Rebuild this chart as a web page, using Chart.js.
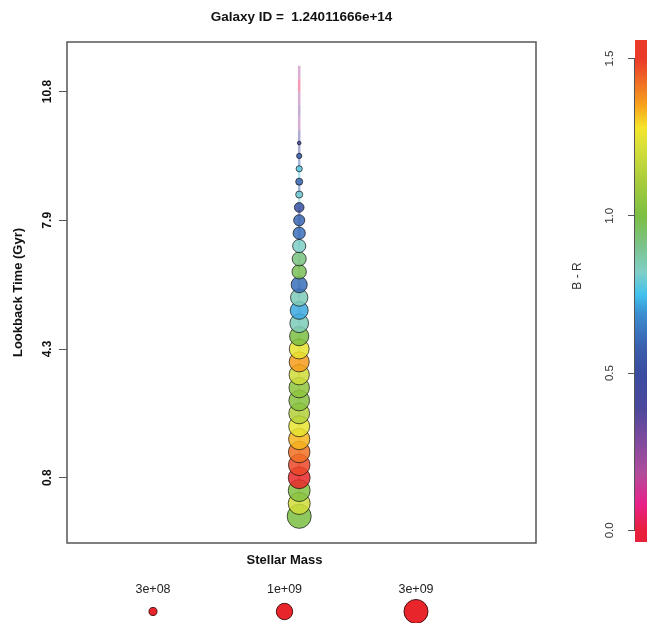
<!DOCTYPE html>
<html>
<head>
<meta charset="utf-8">
<title>Galaxy ID = 1.24011666e+14</title>
<script src="https://cdn.jsdelivr.net/npm/chart.js@4.4.1/dist/chart.umd.min.js"></script>
<style>
  html, body { margin: 0; padding: 0; background: #fff; }
  #wrap { position: relative; width: 657px; height: 623px; }
  #main { position: absolute; left: 0; top: 0; }
  #cbar { position: absolute; left: 560px; top: 0; }
</style>
</head>
<body>
<div id="wrap">
  <canvas id="main" width="603" height="623"></canvas>
  <canvas id="cbar" width="97" height="623"></canvas>
</div>
<script>
  // snapshots, present day at 0, going back in time upwards
  const snapIndex = [0, 1, 2, 3, 4, 5, 6, 7, 8, 9, 10, 11, 12, 13, 14, 15, 16, 17,
    18, 19, 20, 21, 22, 23, 24, 25, 26, 27, 28, 29, 30, 31, 32, 33, 34, 35];

  const bMinusR = [1.00, 1.20, 1.02, 1.54, 1.48, 1.42, 1.33, 1.25, 1.14, 1.03, 1.05, 1.20,
    1.36, 1.25, 1.00, 0.84, 0.72, 0.84, 0.62, 0.97, 0.92, 0.82, 0.62, 0.60,
    0.52, 0.80, 0.60, 0.78, 0.58, 0.45, 0.40, 0.20, 0.30, 0.20, 0.03, 0.18];

  const stellarMass = [3.0e9, 2.24e9, 2.2e9, 2.2e9, 2.1e9, 2.1e9, 2.0e9, 1.95e9, 1.9e9,
    1.85e9, 1.8e9, 1.75e9, 1.7e9, 1.65e9, 1.5e9, 1.4e9, 1.25e9, 1.15e9,
    9.6e8, 7.5e8, 7.1e8, 6.3e8, 5.5e8, 4.7e8, 3.8e8, 2.6e8, 2.6e8, 2.3e8,
    2.0e8, 1.6e8, 9e7, 7e7, 5e7, 4e7, 3e7, 2e7];

  const tickSnaps = [3, 13, 23, 33];
  const tickLabels = ["0.8", "4.3", "7.9", "10.8"];

  const legendMasses = [3e8, 1e9, 3e9];
  const legendLabels = ["3e+08", "1e+09", "3e+09"];

  const colorTicks = [0, 0.5, 1.0, 1.5];
  const colorMin = -0.037;
  const colorMax = 1.559;

  // B - R palette
  const colorStops = [
    [-0.04, "#e8202a"], [0.0, "#e8203c"], [0.085, "#e8218a"], [0.18, "#b24c9c"],
    [0.29, "#7d4a9d"], [0.39, "#4a489c"], [0.5, "#3a4ca0"], [0.585, "#3a60ae"],
    [0.69, "#3b8fd1"], [0.75, "#40c2ee"], [0.82, "#80cfc7"], [0.9, "#7bc38f"],
    [1.0, "#7bbf43"], [1.11, "#a8cc3b"], [1.22, "#d8e03a"], [1.28, "#f5e52a"],
    [1.35, "#f7a31c"], [1.43, "#ef6a25"], [1.5, "#ea3a2a"], [1.56, "#e8202b"],
  ];

  const FONT = '"Liberation Sans", Arial, Helvetica, sans-serif';
  Chart.defaults.font.family = FONT;

  function hexToRgb(hex) {
    const n = parseInt(hex.slice(1), 16);
    return [(n >> 16) & 255, (n >> 8) & 255, n & 255];
  }

  function colorFor(v, alpha) {
    let lo = colorStops[0];
    let hi = colorStops[colorStops.length - 1];
    for (let i = 0; i < colorStops.length - 1; i++) {
      if (v >= colorStops[i][0] && v <= colorStops[i + 1][0]) {
        lo = colorStops[i];
        hi = colorStops[i + 1];
        break;
      }
    }
    const t = hi[0] === lo[0] ? 0 : Math.min(1, Math.max(0, (v - lo[0]) / (hi[0] - lo[0])));
    const a = hexToRgb(lo[1]);
    const b = hexToRgb(hi[1]);
    const c = a.map((x, k) => Math.round(x + (b[k] - x) * t));
    return `rgba(${c[0]}, ${c[1]}, ${c[2]}, ${alpha})`;
  }

  // circle radius grows with log stellar mass
  function radiusFor(mass) {
    const r = 8 * Math.log10(mass) - 63.8;
    return r > 0.8 ? r : 0;
  }

  const mainDecor = {
    id: "mainDecor",
    afterDraw(chart) {
      const { ctx, chartArea: area, scales } = chart;
      ctx.save();

      // plot frame
      ctx.strokeStyle = "#555";
      ctx.lineWidth = 1.5;
      ctx.strokeRect(area.left, area.top, area.right - area.left, area.bottom - area.top);

      // title
      ctx.fillStyle = "#111";
      ctx.font = "bold 13.5px " + FONT;
      ctx.textAlign = "center";
      ctx.textBaseline = "middle";
      ctx.fillText("Galaxy ID =  1.24011666e+14", (area.left + area.right) / 2, 17);

      // y tick labels, rotated like the axis title
      ctx.font = "bold 12px " + FONT;
      tickSnaps.forEach((s, i) => {
        const y = scales.y.getPixelForValue(s);
        ctx.save();
        ctx.translate(48, y);
        ctx.rotate(-Math.PI / 2);
        ctx.fillText(tickLabels[i], 0, 0);
        ctx.restore();
      });

      // x label
      const keyX = 284.5;
      ctx.font = "bold 13px " + FONT;
      ctx.fillText("Stellar Mass", keyX, 560);

      // size key
      ctx.font = "12.5px " + FONT;
      legendMasses.forEach((m, i) => {
        const x = keyX + (i - 1) * 131.5;
        ctx.fillStyle = "#222";
        ctx.fillText(legendLabels[i], x, 590);
        ctx.beginPath();
        ctx.arc(x, 611.5, radiusFor(m), 0, Math.PI * 2);
        ctx.fillStyle = "#e8252b";
        ctx.fill();
        ctx.strokeStyle = "rgba(60, 10, 10, 0.9)";
        ctx.lineWidth = 1;
        ctx.stroke();
      });
      ctx.restore();
    },
  };

  new Chart(document.getElementById("main"), {
    type: "bubble",
    data: {
      datasets: [
        {
          type: "bubble",
          order: 1,
          data: snapIndex.map((s, i) => ({ x: 0, y: s, r: radiusFor(stellarMass[i]) })),
          backgroundColor: bMinusR.map((v) => colorFor(v, 0.86)),
          borderColor: "rgba(15, 15, 15, 0.7)",
          borderWidth: 1,
        },
        {
          type: "line",
          order: 2,
          data: snapIndex.map((s) => ({ x: 0, y: s })),
          borderWidth: 2.5,
          pointRadius: 0,
          segment: {
            borderColor: (ctx) => colorFor(bMinusR[ctx.p1DataIndex], 0.45),
          },
        },
      ],
    },
    options: {
      responsive: false,
      animation: false,
      events: [],
      layout: { padding: { top: 42, bottom: 80, right: 67, left: 0 } },
      plugins: { legend: { display: false }, tooltip: { enabled: false } },
      scales: {
        x: { type: "linear", min: -1.01, max: 1.03, display: false },
        y: {
          type: "linear",
          min: -2.07,
          max: 36.85,
          afterFit: (scale) => { scale.width = 67; },
          afterBuildTicks: (scale) => { scale.ticks = tickSnaps.map((v) => ({ value: v })); },
          ticks: { display: false },
          border: { display: false },
          grid: { drawOnChartArea: false, drawTicks: true, tickLength: 8, color: "#555", lineWidth: 1 },
          title: {
            display: true,
            text: "Lookback Time (Gyr)",
            color: "#111",
            font: { size: 13, weight: "bold" },
            padding: { top: 11, bottom: 0 },
          },
        },
      },
    },
    plugins: [mainDecor],
  });

  const colorBar = {
    id: "colorBar",
    beforeDatasetsDraw(chart) {
      const { ctx, chartArea: area, scales } = chart;
      const y = scales.y;
      const grad = ctx.createLinearGradient(0, y.getPixelForValue(colorMin), 0, y.getPixelForValue(colorMax));
      colorStops.forEach(([v, c]) => {
        const t = (v - colorMin) / (colorMax - colorMin);
        if (t >= 0 && t <= 1) grad.addColorStop(t, c);
      });
      ctx.save();
      ctx.fillStyle = grad;
      ctx.fillRect(area.left, area.top, area.right - area.left, area.bottom - area.top);

      // axis line spanning the tick range
      ctx.strokeStyle = "#555";
      ctx.lineWidth = 1;
      ctx.beginPath();
      ctx.moveTo(area.left - 0.5, y.getPixelForValue(colorTicks[0]));
      ctx.lineTo(area.left - 0.5, y.getPixelForValue(colorTicks[colorTicks.length - 1]));
      ctx.stroke();

      ctx.fillStyle = "#333";
      ctx.font = "11.5px " + FONT;
      ctx.textAlign = "center";
      ctx.textBaseline = "middle";
      colorTicks.forEach((v) => {
        ctx.save();
        ctx.translate(50, y.getPixelForValue(v));
        ctx.rotate(-Math.PI / 2);
        ctx.fillText(v.toFixed(1), 0, 0);
        ctx.restore();
      });

      ctx.font = "12px " + FONT;
      ctx.translate(18, 276);
      ctx.rotate(-Math.PI / 2);
      ctx.fillText("B - R", 0, 0);
      ctx.restore();
    },
  };

  new Chart(document.getElementById("cbar"), {
    type: "scatter",
    data: { datasets: [{ data: [] }] },
    options: {
      responsive: false,
      animation: false,
      events: [],
      layout: { padding: { top: 40, bottom: 81, right: 10, left: 0 } },
      plugins: { legend: { display: false }, tooltip: { enabled: false } },
      scales: {
        x: { type: "linear", min: 0, max: 1, display: false },
        y: {
          type: "linear",
          min: colorMin,
          max: colorMax,
          afterFit: (scale) => { scale.width = 75; },
          afterBuildTicks: (scale) => { scale.ticks = colorTicks.map((v) => ({ value: v })); },
          ticks: { display: false },
          border: { display: false },
          grid: { drawOnChartArea: false, drawTicks: true, tickLength: 7, color: "#555", lineWidth: 1 },
        },
      },
    },
    plugins: [colorBar],
  });
</script>
</body>
</html>
